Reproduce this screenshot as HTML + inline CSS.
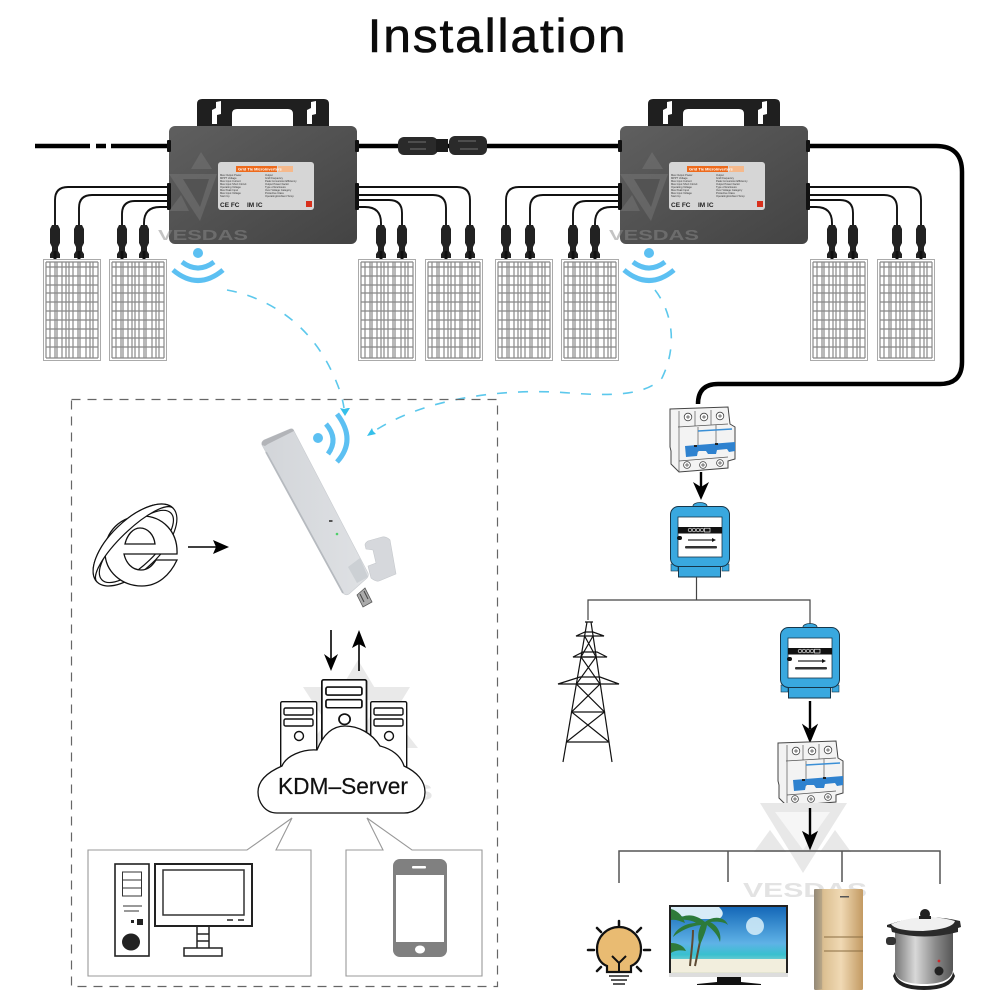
<!DOCTYPE html>
<html><head><meta charset="utf-8"><style>html,body{margin:0;padding:0;background:#fff}svg{display:block}text{font-family:"Liberation Sans",sans-serif}</style></head><body>
<svg width="1000" height="1000" viewBox="0 0 1000 1000" xmlns="http://www.w3.org/2000/svg">
<defs>
<linearGradient id="inv" x1="0" y1="0" x2="1" y2="1"><stop offset="0" stop-color="#5f5f5f"/><stop offset="1" stop-color="#434343"/></linearGradient>
<linearGradient id="fr" x1="0" x2="1" y1="0" y2="0"><stop offset="0" stop-color="#8f8373"/><stop offset=".2" stop-color="#dcc092"/><stop offset=".55" stop-color="#f0d9b4"/><stop offset="1" stop-color="#c39a62"/></linearGradient>
<linearGradient id="pot" x1="0" x2="1" y1="0" y2="0"><stop offset="0" stop-color="#777"/><stop offset=".35" stop-color="#d8d8d8"/><stop offset=".7" stop-color="#8a8a8a"/><stop offset="1" stop-color="#555"/></linearGradient>
<linearGradient id="sky" x1="0" x2="0" y1="0" y2="1"><stop offset="0" stop-color="#1568b8"/><stop offset=".55" stop-color="#5fb2e6"/><stop offset=".72" stop-color="#38c0cf"/><stop offset="1" stop-color="#e8e6d2"/></linearGradient>
<linearGradient id="dng" x1="0" x2="1" y1="0" y2="0"><stop offset="0" stop-color="#d2d5d9"/><stop offset="1" stop-color="#dfe1e4"/></linearGradient>

<g id="panel">
<rect x=".5" y=".5" width="57" height="101" fill="#fff" stroke="#aaa"/>
<g stroke="#888" stroke-width="1.2" fill="none">
<path d="M3 3v96M7 3v96M12 3v96M14 3v96M19 3v96M23 3v96M26 3v96M30 3v96M35 3v96M37 3v96M43 3v96M47 3v96M50 3v96M55 3v96"/>
<path d="M3 3h52M3 8h52M3 17h52M3 26h52M3 34h52M3 43h52M3 52h52M3 61h52M3 70h52M3 79h52M3 88h52M3 99h52"/>
</g>
</g>

<g id="conn"><path d="M-3 0h6l2 4v14l-2 4v4l2 3v4h-10v-4l2-3v-4l-2-4v-14z" fill="#222"/><rect x="-1.5" y="26" width="3" height="8" fill="#111"/></g>

<g id="inverter">
<path d="M28 5q0-5 5-5h122q5 0 5 5v23h-36v-13q0-5-5-5h-51q-5 0-5 5v13h-35z" fill="#1f1f1f"/>
<polygon points="43,11 47,9 47,3 52,2 52,15 48,16 48,25 43,25" fill="#fff"/>
<polygon points="138,11 142,9 142,3 147,2 147,15 143,16 143,25 138,25" fill="#fff"/>
<rect x="0" y="27" width="188" height="118" rx="6" fill="url(#inv)"/>
<rect x="-2" y="41" width="4" height="12" rx="1" fill="#111"/>
<rect x="186" y="41" width="4" height="12" rx="1" fill="#111"/>
<rect x="-2" y="84" width="4" height="27" rx="1" fill="#111"/>
<rect x="186" y="84" width="4" height="27" rx="1" fill="#111"/>
<g fill="#777" opacity=".5">
<polygon points="32,53 22,70 43,70"/>
<polygon points="0,75 48,75 31,122"/>
<polygon points="12,96 0,112 20,112"/>
</g>
<polygon points="14,80 40,80 31,108" fill="#535353"/>
<text x="-11" y="141" font-size="15" font-weight="700" fill="#8a8a8a" opacity=".5" textLength="90" lengthAdjust="spacingAndGlyphs">VESDAS</text>
<rect x="49" y="63" width="96" height="48" rx="3" fill="#d6d6d6"/>
<rect x="67" y="67" width="41" height="6" fill="#ed6a1c"/>
<rect x="109" y="67" width="15" height="6" fill="#f5b98c"/>
<text x="69" y="71.6" font-size="4" font-weight="700" fill="#fff">Grid Tie Microinverters</text>
<g font-size="2.6" fill="#333">
<text x="51" y="77">Max Output Power</text><text x="96" y="77">Output</text>
<text x="51" y="80">MPPT Voltage</text><text x="96" y="80">Grid Frequency</text>
<text x="51" y="83">Max Input Current</text><text x="96" y="83">Peak Conversion Efficiency</text>
<text x="51" y="86">Max Input Short Circuit</text><text x="96" y="86">Output Power Factor</text>
<text x="51" y="89">Operating Voltage</text><text x="96" y="89">Type of Enclosure</text>
<text x="51" y="92">Max Peak Input</text><text x="96" y="92">Over Voltage Category</text>
<text x="51" y="95">Max Input Voltage</text><text x="96" y="95">Protective Class</text>
<text x="51" y="98">Start Up</text><text x="96" y="98">Operating/Ambient Temp</text>
</g>
<text x="51" y="108" font-size="6.5" font-weight="700" fill="#222">CE FC</text>
<text x="78" y="108" font-size="6.5" font-weight="700" fill="#222">IM IC</text>
<rect x="137" y="102" width="6" height="6" fill="#d8301c"/>
</g>

<g id="wifi" fill="none" stroke="#5cc0f2">
<circle cx="0" cy="0" r="5" fill="#5cc0f2" stroke="none"/>
<path d="M-16 9Q0 21 16 9" stroke-width="5"/>
<path d="M-25 17Q0 38 25 17" stroke-width="5"/>
</g>

<g id="breaker">
<polygon points="0,2 58,0 60,17 65,20 65,52 58,54 58,61 9,65 1,57 1,44 0,40" fill="#f3f3f3" stroke="#444" stroke-width="1"/>
<path d="M9 4v61M8 20l50-3M25 4v15M41 3v15M28 20v25M46 18v25M9 54l49-4" stroke="#555" stroke-width=".7" fill="none"/>
<g fill="#fff" stroke="#444" stroke-width=".8"><circle cx="18" cy="10" r="3.8"/><circle cx="34" cy="10" r="3.8"/><circle cx="50" cy="9" r="3.8"/><circle cx="17" cy="58" r="3.4"/><circle cx="33" cy="58" r="3.4"/><circle cx="50" cy="56" r="3.4"/></g>
<g stroke="#444" stroke-width=".7"><path d="M16 10h4M18 8v4M32 10h4M34 8v4M48 9h4M50 7v4M15 58h4M17 56v4M31 58h4M33 56v4M48 56h4M50 54v4"/></g>
<path d="M28 24l34-2" stroke="#3a8fd6" stroke-width="1.4"/>
<polygon points="15,39 65,35 65,44 59,45 57,42 47,43 46,47 38,47 36,44 28,44 27,49 16,50" fill="#2f82cf"/>
<rect x="24" y="38" width="3" height="2" fill="#222"/><rect x="45" y="36" width="3" height="2" fill="#222"/>
</g>

<g id="meter">
<ellipse cx="30" cy="3" rx="7" ry="3.5" fill="#39a8df" stroke="#1b3b4d" stroke-width=".8"/>
<rect x="8.500" y="58" width="42" height="16" fill="#39a8df" stroke="#16364a" stroke-width="1"/>
<rect x="1" y="61" width="7" height="7" fill="#39a8df" stroke="#16364a" stroke-width=".6"/>
<rect x="52" y="61" width="7" height="7" fill="#39a8df" stroke="#16364a" stroke-width=".6"/>
<rect x=".5" y="3.5" width="59" height="60" rx="8" fill="#39a8df" stroke="#16364a" stroke-width="1"/>
<rect x="8" y="14" width="44" height="40" fill="#fff" stroke="#16364a" stroke-width=".8"/>
<rect x="8" y="24" width="44" height="6.500" fill="#111"/>
<g fill="none" stroke="#eee" stroke-width=".7"><circle cx="20" cy="27" r="1.800"/><circle cx="24" cy="27" r="1.800"/><circle cx="28" cy="27" r="1.800"/><circle cx="32" cy="27" r="1.800"/><rect x="34.500" y="25.200" width="5.500" height="3.800"/></g>
<path d="M18 37h26" stroke="#666" stroke-width="1.800"/><path d="M42 35l4 2-4 2z" fill="#111"/>
<rect x="15" y="43" width="32" height="2.500" rx="1" fill="#333"/>
<rect x="7" y="33" width="5" height="4" rx="2" fill="#111"/>
</g>

<g id="tower-srv" fill="#fff" stroke="#111" stroke-width="1.4">
<rect x=".7" y=".7" width="36" height="70" rx="1.500"/>
<rect x="4" y="7" width="29" height="7" rx="1.500"/>
<rect x="4" y="18" width="29" height="7" rx="1.500"/>
<circle cx="19" cy="35" r="4.500"/>
</g>
</defs>

<g transform="translate(497.500 52) scale(1.06 1)"><text x="0" y="0" text-anchor="middle" font-size="47" letter-spacing="1.700" fill="#0c0c0c" stroke="#0c0c0c" stroke-width=".6">Installation</text></g>

<!-- AC trunk -->
<g fill="none" stroke="#000" stroke-width="4.500">
<path d="M35 146h55M96 146h10M111 146h58"/>
<path d="M356 146h265"/>
<path d="M806 146h130q26 0 26 26v190q0 22-22 22h-222q-20 0-20 20"/>
</g>
<rect x="398" y="137" width="40" height="18" rx="6" fill="#2a2a2a"/>
<rect x="436" y="139" width="12" height="13" fill="#1c1c1c"/>
<rect x="449" y="136" width="38" height="19" rx="6" fill="#2a2a2a"/>
<path d="M408 142h18M410 149h16M458 141h18M460 149h18" stroke="#4d4d4d" stroke-width="2"/>

<!-- DC cables, first inverter -->
<g id="cables1" fill="none" stroke="#111" stroke-width="1.900">
<path d="M169 187H68q-13 0-13 13v27"/>
<path d="M169 195H92q-13 0-13 13v19"/>
<path d="M169 201H135q-13 0-13 13v13"/>
<path d="M169 207H160q-16 0-16 16v4"/>
<path d="M356 187H457q13 0 13 13v27"/>
<path d="M356 195H433q13 0 13 13v19"/>
<path d="M356 200H389q13 0 13 13v14"/>
<path d="M356 207H365q16 0 16 16v4"/>
</g>
<use href="#cables1" x="451"/>
<g id="conns1">
<use href="#conn" x="55" y="225"/><use href="#conn" x="79" y="225"/><use href="#conn" x="122" y="225"/><use href="#conn" x="144" y="225"/>
<use href="#conn" x="381" y="225"/><use href="#conn" x="402" y="225"/><use href="#conn" x="446" y="225"/><use href="#conn" x="470" y="225"/>
</g>
<use href="#conns1" x="451"/>

<use href="#panel" x="43" y="259"/><use href="#panel" x="109" y="259"/><use href="#panel" x="358" y="259"/><use href="#panel" x="425" y="259"/>
<use href="#panel" x="495" y="259"/><use href="#panel" x="561" y="259"/><use href="#panel" x="810" y="259"/><use href="#panel" x="877" y="259"/>

<use href="#inverter" x="169" y="99"/>
<use href="#inverter" x="620" y="99"/>

<use href="#wifi" x="198" y="253"/>
<use href="#wifi" x="649" y="253"/>

<!-- wireless dashed links -->
<g fill="none" stroke="#5cc8ec" stroke-width="1.600" stroke-dasharray="10 11">
<path d="M227 290C270 298 310 325 332 372C338 385 342 395 344 408"/>
<path d="M655 290C672 312 678 345 662 378C645 396 610 396 570 393C510 388 430 396 376 430"/>
</g>
<path d="M345 416l-5-8 4 1 4-1 2 0z" fill="#35c0ea"/>
<path d="M367 436l9-2-3-3-1-3z" fill="#35c0ea"/>

<!-- dashed box -->
<rect x="71.500" y="399.500" width="426" height="587" fill="none" stroke="#666" stroke-width="1.200" stroke-dasharray="9 7"/>

<!-- server watermark -->
<g fill="#e9e9e9">
<polygon points="358,660 340,690 376,690"/>
<polygon points="303,687 410,687 358,772"/>
<polygon points="327,720 300,760 350,760"/>
<polygon points="392,715 366,748 418,748"/>
</g>
<polygon points="335,700 380,700 357,738" fill="#f7f7f7"/>
<text x="294" y="800" font-size="22" font-weight="700" fill="#e5e5e5" textLength="139" lengthAdjust="spacingAndGlyphs">VESDAS</text>

<!-- dongle -->
<polygon points="357,595 365,588 372,602 363,607" fill="#aaa" stroke="#555" stroke-width=".8"/>
<path d="M360 594l4 8M364 591l4 8" stroke="#444" stroke-width="1"/>
<path d="M262 445q-1-3 2-5l26-11q3-1 4 2l74 142q1 3-1 5l-18 16q-3 2-6-1z" fill="url(#dng)" stroke="#c9ccd0" stroke-width=".6"/>
<path d="M262 445q-1-3 2-5l26-11q3-1 4 2l-26 13-3 2z" fill="#b2b4b8"/>
<path d="M266 452l77 141" stroke="#b6babf" stroke-width="1.800" fill="none"/>
<polygon points="348,567 360,558 368,577 357,583" fill="#ccd0d4"/>
<path d="M365 545q0-2 3-4l14-4q4-1 8 3l6 34-17 7q-3 1-8-3l-3-12 8-3-3-13-7-1z" fill="#d6d8dc" stroke="#c5c8cc" stroke-width=".6"/>
<circle cx="337" cy="534" r="1.300" fill="#4fd06a"/>
<rect x="329" y="520" width="3.500" height="2" fill="#555"/>

<!-- wifi at dongle -->
<circle cx="318" cy="438" r="5" fill="#5cc0f2"/>
<path d="M326 424Q339 439 328 454" fill="none" stroke="#5cc0f2" stroke-width="5"/>
<path d="M337 414Q357 440 337 462" fill="none" stroke="#5cc0f2" stroke-width="5"/>

<!-- IE icon -->
<g transform="translate(135 545) rotate(-44)" fill="#fff" stroke="#111" stroke-width="1.200">
<ellipse cx="0" cy="0" rx="53" ry="25"/>
<ellipse cx="0" cy="2" rx="48" ry="19"/>
</g>
<path d="M124 554H177C178 532 163 516 142 516C120 516 105 532 105 552C105 572 122 586 142 586C158 586 170 575 177 560H156C152 566 148 570 141 570C132 570 126 563 124 554ZM125 544C127 535 133 528 140 528C148 528 154 535 155 544Z" fill="#fff" fill-rule="evenodd" stroke="#111" stroke-width="1.300"/>
<g transform="translate(135 545) rotate(-44)" fill="#fff" stroke="#111" stroke-width="1.200">
<path d="M-53 0A53 25 0 0 1 53 0A49 14 0 0 0 -53 0Z"/>
</g>
<path d="M188 547h28" stroke="#000" stroke-width="1.500"/>
<polygon points="229,547 213,540 216,547 213,554" fill="#000"/>

<!-- up/down arrows -->
<path d="M331 630v34" stroke="#000" stroke-width="1.600"/>
<polygon points="331,671 324,654 331,659 338,654" fill="#000"/>
<path d="M359 671v-34" stroke="#000" stroke-width="1.600"/>
<polygon points="359,630 352,648 359,644 366,648" fill="#000"/>

<!-- servers -->
<use href="#tower-srv" x="280" y="701"/>
<use href="#tower-srv" x="370" y="701"/>
<g transform="translate(321 679) scale(1.24 1.15)"><use href="#tower-srv"/></g>
<path d="M277 813C264 813 258 801 258 792C258 780 268 772 282 766C286 756 302 749 317 750C323 735 332 726 345 726C358 726 372 733 380 746C392 749 401 756 404 766C417 772 425 781 425 792C425 804 416 813 404 813Z" fill="#fff" stroke="#111" stroke-width="1.300"/>
<text x="343" y="794" text-anchor="middle" font-size="23" fill="#111" stroke="#111" stroke-width=".2" textLength="130" lengthAdjust="spacingAndGlyphs">KDM–Server</text>

<!-- callout boxes -->
<g fill="#fff" stroke="#999" stroke-width="1.100">
<path d="M88 850H247L292 818 276 850H311V976H88z"/>
<path d="M346 850H383L367 818 412 850H482V976H346z"/>
</g>

<!-- computer -->
<rect x="115" y="864" width="34" height="92" fill="#fff" stroke="#222" stroke-width="1.600"/>
<g fill="none" stroke="#333"><rect x="122.500" y="872" width="19" height="24"/><path d="M123 880h19M123 888h19M123 906h19M124 911h15"/></g>
<rect x="137" y="919" width="6" height="6" fill="#222"/><rect x="131" y="920" width="3" height="3" fill="#222"/>
<ellipse cx="131" cy="942" rx="9" ry="8.500" fill="#222"/>
<rect x="155" y="864" width="97" height="62" fill="#fff" stroke="#222" stroke-width="2"/>
<rect x="163" y="870" width="81" height="45" fill="#fff" stroke="#333" stroke-width="1.500"/>
<path d="M227 920h6M238 920h6" stroke="#222" stroke-width="1.500"/>
<path d="M197 926v22M209 926v22M197 934h12M197 941h12" stroke="#222" stroke-width="1.500" fill="none"/>
<rect x="184" y="948" width="38" height="8" fill="#fff" stroke="#222" stroke-width="1.500"/>

<!-- phone -->
<rect x="393" y="859" width="54" height="98" rx="7" fill="#808080"/>
<rect x="396" y="875" width="48" height="67" fill="#fff"/>
<rect x="412" y="866" width="14" height="2.500" rx="1" fill="#fff"/>
<ellipse cx="420" cy="949.500" rx="5" ry="4" fill="#fff"/>

<!-- right side -->
<use href="#breaker" x="670" y="407"/>
<path d="M701 472v18" stroke="#000" stroke-width="2.400"/>
<polygon points="701,500 693,482 701,487 709,482" fill="#000"/>
<use href="#meter" x="670" y="503"/>
<path d="M696.500 577v23M588 620v-20h222v25" fill="none" stroke="#444" stroke-width="1.200"/>
<use href="#meter" x="780" y="624"/>
<path d="M810 701v28" stroke="#000" stroke-width="2.400"/>
<polygon points="810,742 803,725 810,730 817,725" fill="#000" stroke="#000"/>
<use href="#breaker" x="778" y="741"/>

<!-- tower -->
<g fill="none" stroke="#111" stroke-width="1.200">
<path d="M587 622L563 762M591 622L612 762M585 622h8"/>
<path d="M584.600 636L596 657L576.400 684L604.500 712L566.400 742M593 636L581 657L600 684L571.600 712L609 742"/>
<path d="M581 657h15M576.400 684h23.600M571.600 712h33M566.400 742h43"/>
<path d="M576 636l9-4h8l11 4zM573 657l10-5h14l10 5zM558 684l22-7h20l19 7z"/>
</g>

<!-- appliance watermark -->
<g fill="#e8e8e8">
<polygon points="760,803 847,803 803,873"/>
<polygon points="770,830 754,852 786,852"/>
<polygon points="835,830 820,852 851,852"/>
</g>
<polygon points="775,812 830,812 803,850" fill="#f6f6f6"/>
<text x="743" y="897" font-size="20" font-weight="700" fill="#e3e3e3" textLength="124" lengthAdjust="spacingAndGlyphs">VESDAS</text>

<path d="M810 808v30" stroke="#000" stroke-width="2.400"/>
<polygon points="810,849 803,832 810,836 817,832" fill="#000" stroke="#000"/>
<path d="M619 883v-32h321v33M728 851v31M842 851v31" fill="none" stroke="#555" stroke-width="1.500"/>

<!-- bulb -->
<g stroke="#111" stroke-width="2.500" fill="none" stroke-linecap="round">
<path d="M619 921v6M597 928l4 4M641 928l-4 4M588 950h6M644 950h6M597 971l4-4M641 971l-4-4"/>
</g>
<path d="M607 972v-6c-10-4-10-14-10-17a21 21 0 0 1 44 0c0 3 0 13-10 17v6z" fill="#e9bb72" stroke="#111" stroke-width="2.200"/>
<path d="M612 956l7 7 7-7M619 963v9" stroke="#111" stroke-width="2" fill="none"/>
<path d="M609 976h20M611 980h16M613 984h12" stroke="#222" stroke-width="1.500"/>

<!-- TV -->
<rect x="669" y="905" width="119" height="72" fill="#222"/>
<rect x="671" y="907" width="115" height="66" fill="url(#sky)"/>
<circle cx="755" cy="926" r="9" fill="#cfeaf7" opacity=".9"/>
<path d="M671 907h48c4 4 6 8 0 12h-18c-10 0-16-4-30-3z" fill="#d8ecf7"/>
<rect x="671" y="959" width="115" height="13" fill="#f2eedd"/>
<path d="M695 966c3-15 6-30 9-44M690 966c1-12 3-24 3-36" stroke="#5d4a33" stroke-width="2" fill="none"/>
<path d="M705 922c-9-8-20-9-28-2c6-1 15 0 19 3c-9 0-20 5-23 14c7-6 17-11 28-12c-3 6-4 14-1 20c3-7 6-14 7-20c6 5 11 10 13 17c2-9-3-17-10-20c7-1 15 0 18 3c-3-8-14-10-23-3z" fill="#2c7a3b"/>
<path d="M671 909c8 2 12 8 14 14c-5-2-10-4-14-3zM671 943c7 0 13 3 15 8c-5-1-11-1-15 2z" fill="#2f7a3a"/>
<rect x="669" y="973" width="119" height="4" fill="#ddd"/>
<path d="M717 977h24v5l20 2v1h-64v-1l20-2z" fill="#111"/>

<!-- fridge -->
<rect x="814" y="889" width="49" height="101" rx="1.500" fill="url(#fr)"/>
<path d="M824 937h39M824 951h39" stroke="#8a6d42" stroke-width="1"/>
<rect x="840" y="896" width="9" height="1.500" fill="#555"/>
<rect x="814" y="889" width="8" height="100" fill="#99907f" opacity=".4"/>

<!-- cooker -->
<path d="M895 932h58v38q-2 14-29 14q-29 0-29-14z" fill="url(#pot)"/>
<path d="M895 972q2 14 29 14q27 0 29-14l2 4q-4 14-31 14q-27 0-31-14z" fill="#222"/>
<path d="M887 925q37-13 73-4l1 6-3 1v4q-34 9-66 0l-1-4-4-1z" fill="#2a2a2a"/>
<path d="M891 924q33-12 64-3q-2 8-32 10q-28 0-32-7z" fill="#f0f0f0"/>
<circle cx="925" cy="914" r="5" fill="#222"/><rect x="919" y="916" width="12" height="3" fill="#222"/>
<rect x="886" y="937" width="10" height="8" rx="3" fill="#333"/>
<circle cx="939" cy="971" r="4.500" fill="#222"/>
<circle cx="939" cy="961" r="1.400" fill="#d0282a"/>
</svg>
</body></html>
